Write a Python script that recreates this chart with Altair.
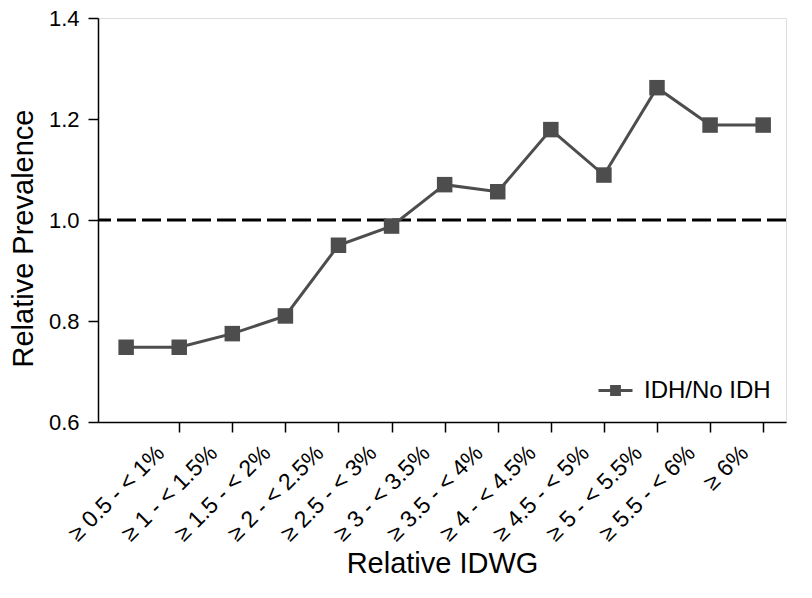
import altair as alt
import pandas as pd

# ---- data ----
bin_position = [0, 1, 2, 3, 4, 5, 6, 7, 8, 9, 10, 11, 12]
relative_prevalence = [0.748, 0.748, 0.775, 0.810, 0.950, 0.988, 1.070,
                       1.056, 1.179, 1.089, 1.262, 1.188, 1.188]
series_name = "IDH/No IDH"

tick_positions = [1, 2, 3, 4, 5, 6, 7, 8, 9, 10, 11, 12]
tick_labels = ["≥ 0.5 - < 1%", "≥ 1 - < 1.5%", "≥ 1.5 - < 2%", "≥ 2 - < 2.5%",
               "≥ 2.5 - < 3%", "≥ 3 - < 3.5%", "≥ 3.5 - < 4%", "≥ 4 - < 4.5%",
               "≥ 4.5 - < 5%", "≥ 5 - < 5.5%", "≥ 5.5 - < 6%", "≥ 6%"]
y_ticks = [0.6, 0.8, 1.0, 1.2, 1.4]
reference_level = [1.0]

df = pd.DataFrame({"pos": bin_position, "val": relative_prevalence,
                   "series": [series_name] * len(bin_position)})
ref_df = pd.DataFrame({"ref": reference_level})

FONT = "Liberation Sans"
GRAY = "#4d4d4d"

label_expr = "[" + ",".join("'" + t + "'" for t in tick_labels) + "][datum.value - 1]"

x_enc = alt.X("pos:Q",
              scale=alt.Scale(domain=[-0.53, 12.43], nice=False, zero=False),
              axis=alt.Axis(values=tick_positions, labelExpr=label_expr,
                            title="Relative IDWG", titleFontSize=29,
                            titleFontWeight="normal", titleFont=FONT,
                            titleY=150, titleBaseline="alphabetic",
                            labelAngle=-45, labelAlign="right",
                            labelBaseline="middle", labelFontSize=23,
                            labelFont=FONT, labelColor="black",
                            labelPadding=17, labelOffset=-19,
                            tickSize=10, tickWidth=1.5, tickColor="black",
                            domainColor="black", domainWidth=1.5,
                            grid=False, labelOverlap=False))
y_enc = alt.Y("val:Q",
              scale=alt.Scale(domain=[0.6, 1.4], nice=False, zero=False),
              axis=alt.Axis(values=y_ticks, format=".1f",
                            title="Relative Prevalence", titleFontSize=29,
                            titleFontWeight="normal", titleFont=FONT,
                            titleX=-66, titleY=220, titleAngle=-90,
                            titleBaseline="alphabetic", titleAlign="center",
                            labelFontSize=22, labelFont=FONT, labelColor="black",
                            labelPadding=9,
                            tickSize=10, tickWidth=1.5, tickColor="black",
                            domainColor="black", domainWidth=1.5,
                            grid=False))

ref_rule = alt.Chart(ref_df).mark_rule(
    color="black", strokeWidth=3, strokeDash=[19, 6]
).encode(y=alt.Y("ref:Q"))

line = alt.Chart(df).mark_line(color=GRAY, strokeWidth=3).encode(x=x_enc, y=y_enc)

points = alt.Chart(df).mark_point(shape="square", filled=True, size=240,
                                  opacity=1).encode(
    x=x_enc, y=y_enc,
    color=alt.Color("series:N",
                    scale=alt.Scale(range=[GRAY]),
                    legend=alt.Legend(orient="none", legendX=499, legendY=354,
                                      title=None, padding=0,
                                      symbolType="M-1,0H1M-0.23,-0.23H0.23V0.23H-0.23Z",
                                      symbolSize=1156, symbolStrokeWidth=3,
                                      symbolStrokeColor=GRAY, symbolFillColor=GRAY,
                                      symbolOpacity=1,
                                      labelFontSize=24, labelFont=FONT,
                                      labelColor="black", labelOffset=10))
)

chart = alt.layer(ref_rule, line, points).properties(
    width=688, height=404,
    padding={"left": 90, "top": 10, "right": 16, "bottom": 160},
    autosize=alt.AutoSizeParams(type="none"),
).configure_view(stroke=None).configure(background="white")

chart.save("out.html", embed_options={"renderer": "svg", "actions": False})
